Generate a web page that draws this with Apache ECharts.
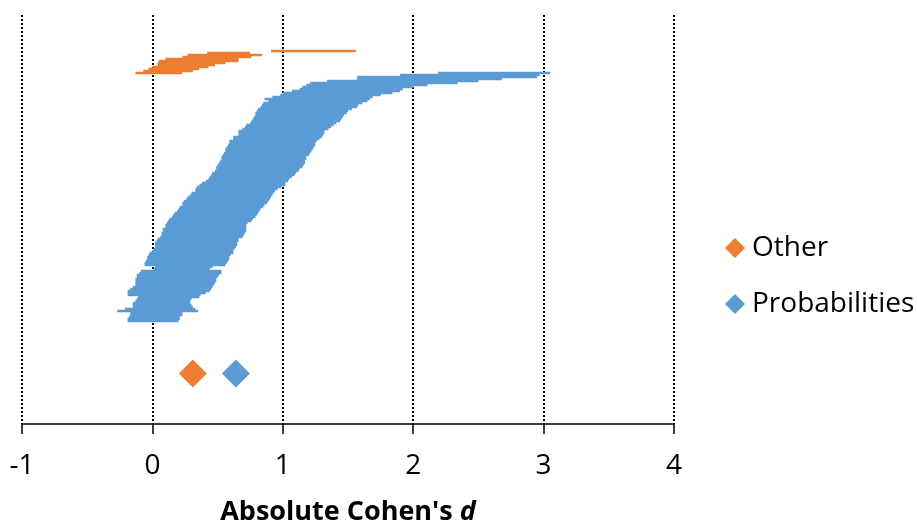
<!DOCTYPE html>
<html>
<head>
<meta charset="utf-8">
<script src="https://cdn.jsdelivr.net/npm/echarts@6/dist/echarts.min.js"></script>
<style>
html,body{margin:0;padding:0;background:#fff;}
#chart{width:917px;height:524px;}
</style>
</head>
<body>
<div id="chart"></div>
<script>
// ---- data ----
const seriesNames = ['Other', 'Probabilities'];
const xTickValues = [-1, 0, 1, 2, 3, 4];

// "Other" effect-size intervals (rank order, top to bottom)
const otherLower = [0.91, 0.42, 0.27, 0.23, 0.10, 0.05, 0.04, 0.04, 0.00, -0.03, -0.07, -0.13];
const otherUpper = [1.56, 0.75, 0.84, 0.76, 0.66, 0.66, 0.56, 0.48, 0.43, 0.36, 0.31, 0.23];

// "Probabilities" effect-size intervals (rank order, top to bottom)
const probLower = [
  2.19,1.90,1.57,1.57,1.34,1.21,1.18,1.15,1.13,1.07,
  1.00,0.98,0.92,0.86,0.89,0.85,0.84,0.83,0.81,0.80,
  0.79,0.79,0.78,0.77,0.76,0.75,0.72,0.71,0.69,0.66,
  0.66,0.66,0.62,0.62,0.59,0.59,0.58,0.57,0.56,0.56,
  0.55,0.54,0.53,0.53,0.52,0.51,0.50,0.49,0.49,0.48,
  0.46,0.45,0.44,0.43,0.41,0.38,0.36,0.34,0.33,0.33,
  0.30,0.29,0.27,0.26,0.24,0.23,0.23,0.21,0.20,0.19,
  0.17,0.16,0.15,0.13,0.12,0.11,0.10,0.10,0.08,0.08,
  0.07,0.07,0.06,0.04,0.03,0.02,0.02,0.02,0.01,0.00,
  -0.02,-0.03,-0.04,-0.04,-0.05,-0.06,-0.06,0.02,0.01,-0.09,
  -0.10,-0.12,-0.12,-0.13,-0.13,-0.13,-0.13,-0.15,-0.17,-0.19,
  -0.19,-0.19,-0.11,-0.12,-0.13,-0.15,-0.15,-0.15,-0.21,-0.27,
  -0.17,-0.17,-0.18,-0.19,-0.19
];
const probUpper = [
  3.05,2.97,2.95,2.68,2.50,2.34,2.11,2.00,1.92,1.90,
  1.84,1.75,1.69,1.67,1.65,1.61,1.58,1.57,1.53,1.50,
  1.49,1.47,1.46,1.45,1.44,1.41,1.39,1.37,1.35,1.32,
  1.32,1.31,1.30,1.28,1.26,1.25,1.25,1.24,1.23,1.22,
  1.21,1.20,1.18,1.18,1.17,1.17,1.16,1.15,1.13,1.12,
  1.10,1.09,1.07,1.05,1.04,1.02,1.02,0.99,0.96,0.94,
  0.93,0.92,0.91,0.90,0.89,0.88,0.86,0.85,0.83,0.82,
  0.81,0.80,0.79,0.77,0.76,0.73,0.72,0.72,0.72,0.72,
  0.71,0.70,0.69,0.66,0.66,0.65,0.65,0.64,0.63,0.62,
  0.62,0.60,0.59,0.59,0.58,0.57,0.56,0.46,0.44,0.53,
  0.53,0.51,0.50,0.49,0.49,0.48,0.47,0.46,0.45,0.44,
  0.41,0.37,0.36,0.30,0.29,0.29,0.30,0.31,0.33,0.35,
  0.23,0.23,0.21,0.21,0.20
];

// group means (diamonds)
const meanValues = [0.31, 0.64];

// ---- layout helpers (row ranks) ----
const PROB_START_ROW = 11;
const MEAN_ROW = 161.25;
const colors = ['#ED7D31', '#5B9BD5'];
const FONT = '"Open Sans", "Noto Sans", sans-serif';

const otherData = otherLower.map((v, i) => [v, otherUpper[i], i]);
const probData = probLower.map((v, i) => [v, probUpper[i], PROB_START_ROW + i]);

function makeRender(color) {
  return function (params, api) {
    const a = api.coord([api.value(0), api.value(2)]);
    const b = api.coord([api.value(1), api.value(2)]);
    return {
      type: 'line',
      shape: { x1: a[0], y1: a[1], x2: b[0], y2: b[1] },
      style: { stroke: color, lineWidth: 2.4 }
    };
  };
}

const chart = echarts.init(document.getElementById('chart'), null, { renderer: 'canvas' });
chart.setOption({
  animation: false,
  textStyle: { fontFamily: FONT, color: '#000' },
  grid: { left: 22, right: 243, top: 15, bottom: 100, containLabel: false, outerBoundsMode: 'none' },
  xAxis: {
    type: 'value',
    min: xTickValues[0],
    max: xTickValues[xTickValues.length - 1],
    interval: 1,
    axisLine: { show: true, onZero: false, lineStyle: { color: '#000', width: 1.5 } },
    axisTick: { show: true, length: 10, lineStyle: { color: '#000', width: 1.5 } },
    axisLabel: { fontSize: 28, color: '#000', margin: 28, fontFamily: FONT },
    splitLine: { show: true, lineStyle: { color: '#000', width: 2, type: [2, 2] } },
    name: '{b|Absolute Cohen\'s }{i|d}',
    nameLocation: 'middle',
    nameGap: 75,
    nameTextStyle: {
      rich: {
        b: { fontSize: 27, fontWeight: 'bold', color: '#000', fontFamily: FONT },
        i: { fontSize: 27, fontWeight: 'bold', fontStyle: 'italic', color: '#000', fontFamily: FONT }
      }
    }
  },
  yAxis: {
    type: 'value',
    inverse: true,
    min: -18,
    max: 186.5,
    show: false,
    splitLine: { show: false }
  },
  legend: {
    orient: 'vertical',
    left: 720,
    top: 227,
    itemWidth: 20,
    itemHeight: 20,
    itemGap: 24,
    icon: 'diamond',
    data: seriesNames,
    textStyle: { fontSize: 28, color: '#000', fontFamily: FONT, lineHeight: 32, padding: [0, 0, 0, 2] }
  },
  series: [
    {
      name: seriesNames[0],
      type: 'custom',
      renderItem: makeRender(colors[0]),
      encode: { x: [0, 1], y: 2 },
      itemStyle: { color: colors[0] },
      data: otherData,
      z: 3
    },
    {
      name: seriesNames[1],
      type: 'custom',
      renderItem: makeRender(colors[1]),
      encode: { x: [0, 1], y: 2 },
      itemStyle: { color: colors[1] },
      data: probData,
      z: 2
    },
    {
      name: seriesNames[0],
      type: 'scatter',
      symbol: 'diamond',
      symbolSize: 28,
      itemStyle: { color: colors[0], opacity: 1 },
      data: [[meanValues[0], MEAN_ROW]],
      z: 4
    },
    {
      name: seriesNames[1],
      type: 'scatter',
      symbol: 'diamond',
      symbolSize: 28,
      itemStyle: { color: colors[1], opacity: 1 },
      data: [[meanValues[1], MEAN_ROW]],
      z: 4
    }
  ]
});
</script>
</body>
</html>
